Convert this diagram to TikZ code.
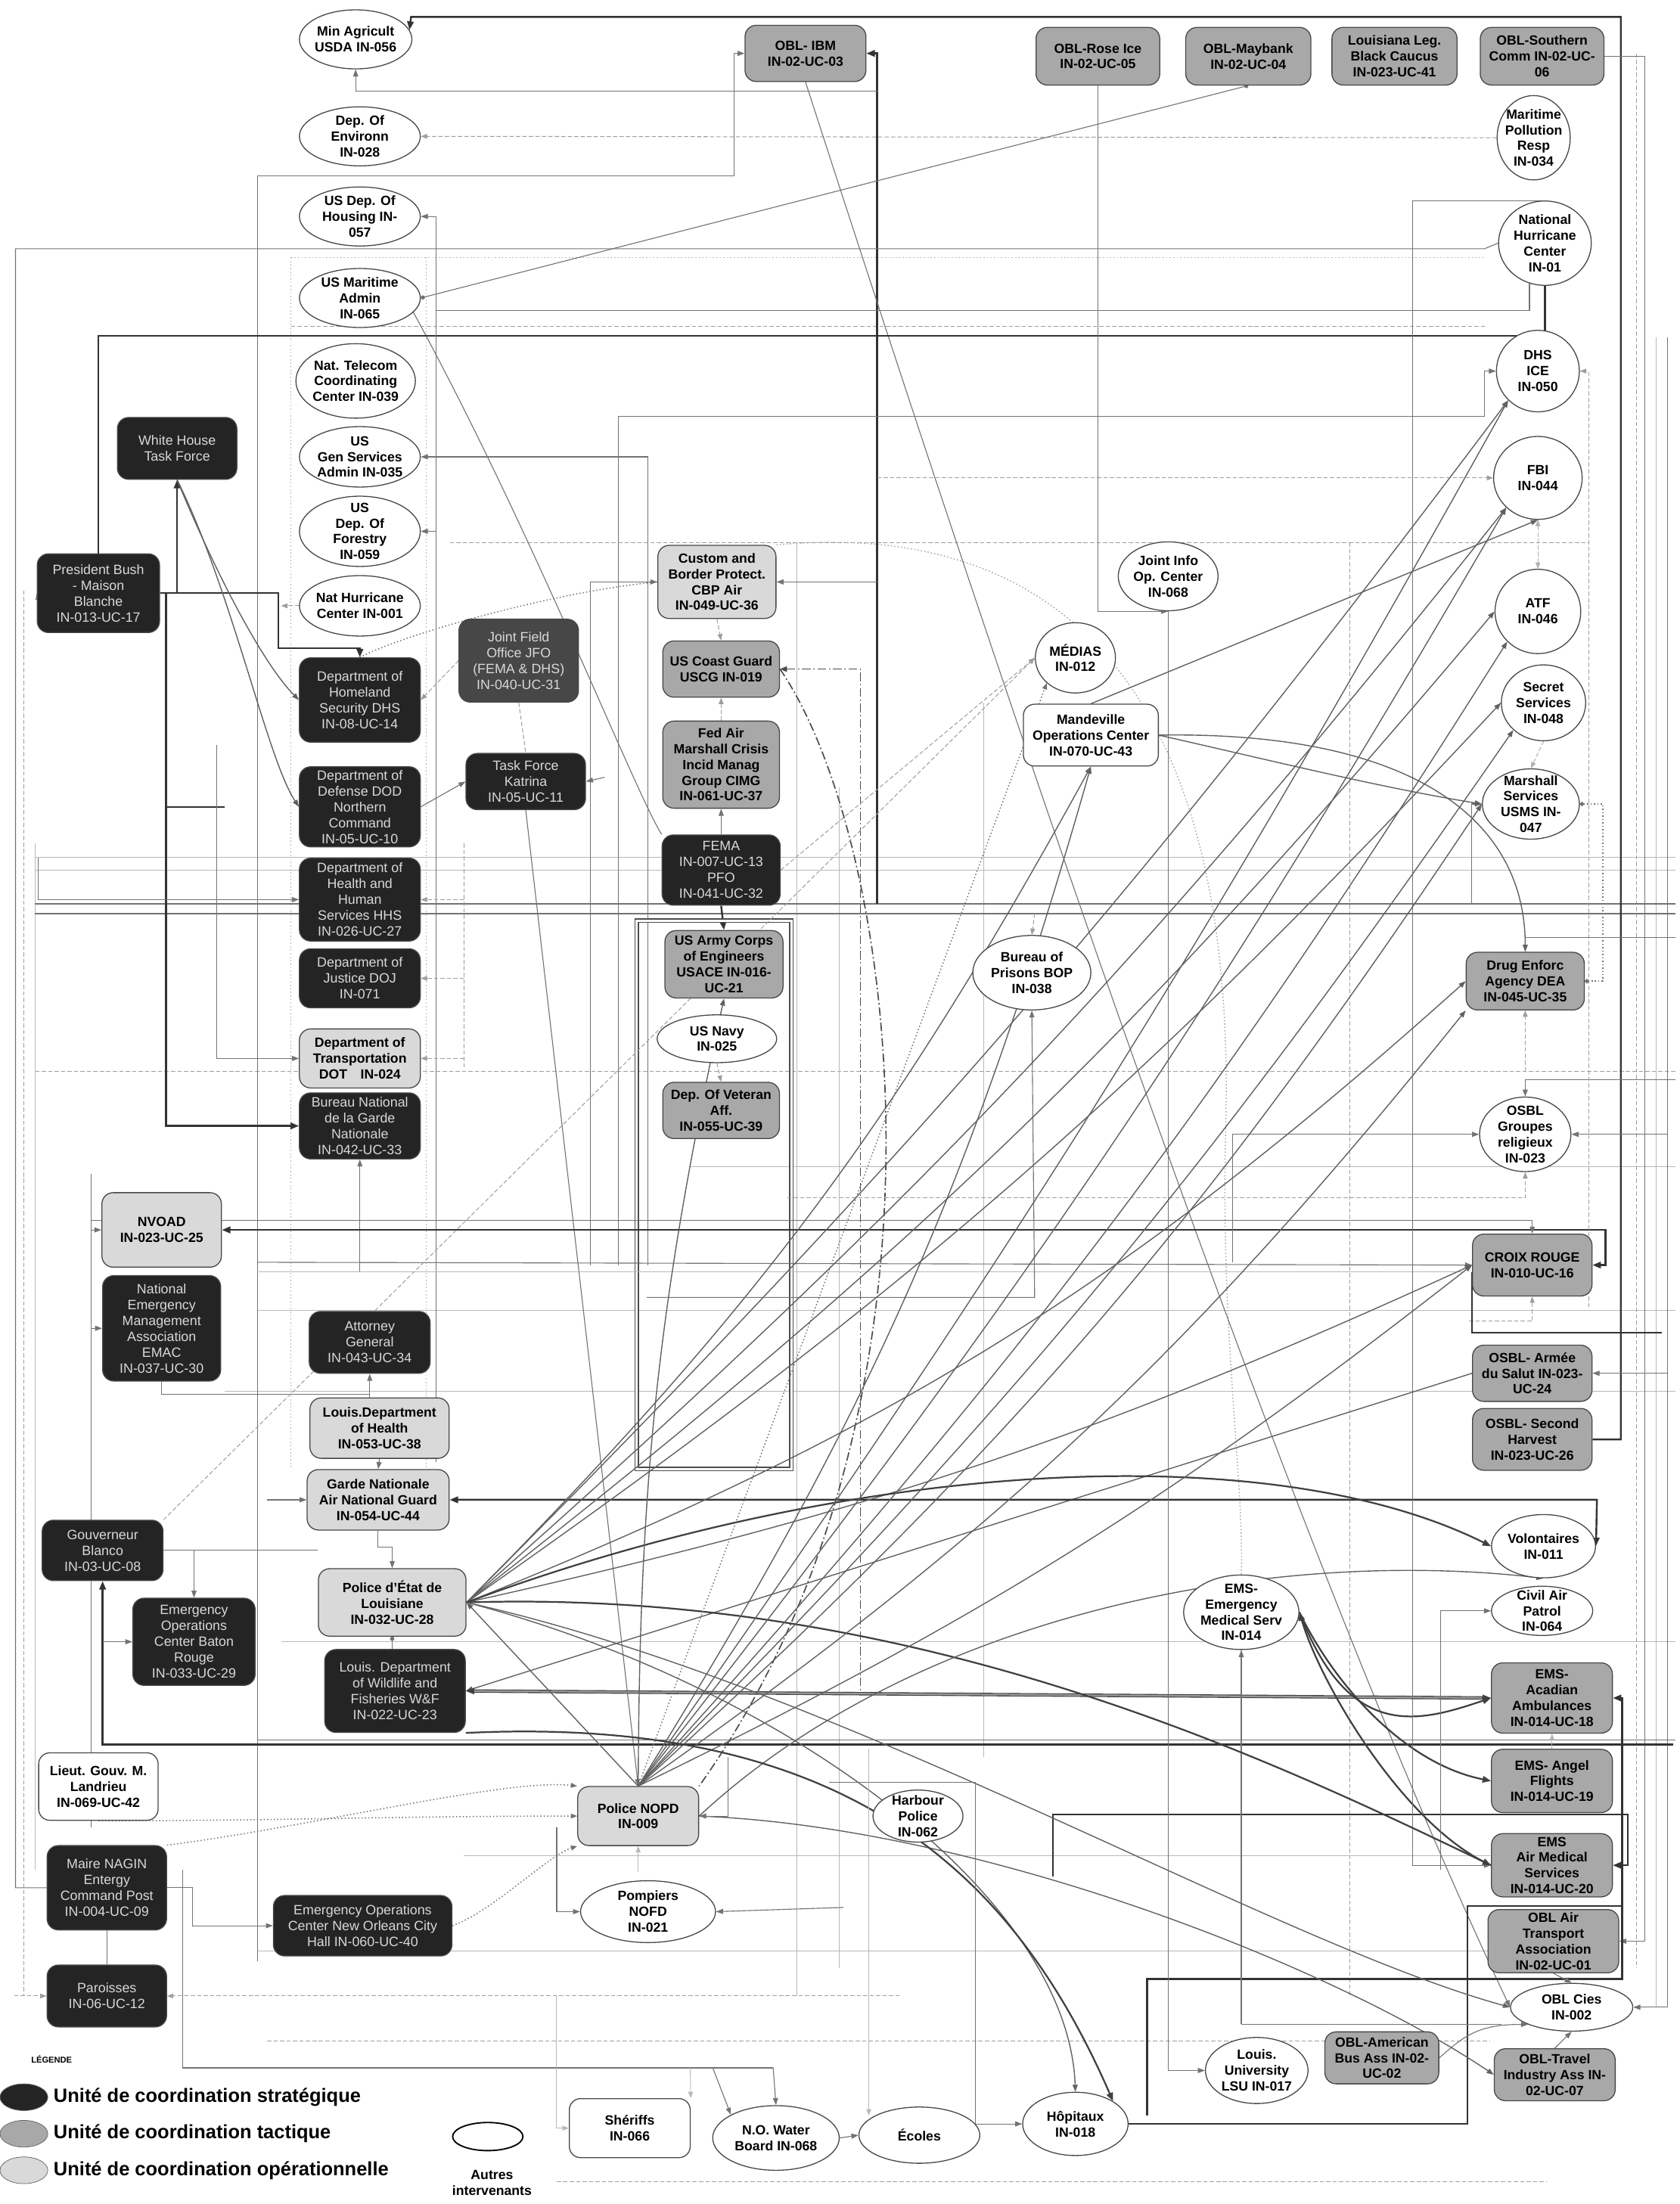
\documentclass[tikz,border=0pt]{standalone}
\usepackage{fontspec}
\setmainfont{Liberation Sans}
\usetikzlibrary{shapes.geometric,arrows.meta}
\pgfdeclarelayer{bg}
\pgfsetlayers{bg,main}
\tikzset{
 base/.style={draw=black!72, line width=0.7pt, align=center, font=\bfseries\fontsize{9.5}{11.2}\selectfont, text=black},
 strat/.style={base, rounded corners=8pt, fill=black!86, text=black!15, font=\fontsize{9.6}{11.3}\selectfont, inner sep=1pt},
 jfostyle/.style={strat, fill=black!72},
 tact/.style={base, rounded corners=8pt, fill=black!34, inner sep=1pt},
 oper/.style={base, rounded corners=8pt, fill=black!15, inner sep=1pt},
 other/.style={base, rounded corners=8pt, fill=white, inner sep=1pt},
 oval/.style={base, ellipse, fill=white, inner sep=-8pt},
 sz/.style 2 args={minimum width=#1pt, minimum height=#2pt},
 ln/.style={draw=black!55, line width=0.6pt},
 ar/.style={ln, -{Triangle[length=5pt,width=3.6pt]}},
 tk/.style={draw=black!80, line width=1.3pt},
 tka/.style={tk, -{Triangle[length=6pt,width=4.6pt]}},
 lt/.style={draw=black!28, line width=0.5pt},
 lta/.style={lt, -{Triangle[length=4.5pt,width=3.4pt]}},
 ds/.style={draw=black!38, line width=0.55pt, dash pattern=on 3pt off 1.6pt},
 dsa/.style={ds, -{Triangle[length=4.5pt,width=3.4pt]}},
 dt/.style={draw=black!55, line width=0.8pt, dash pattern=on 0.8pt off 1.6pt},
 dta/.style={dt, -{Triangle[length=4.5pt,width=3.4pt]}},
 dd/.style={draw=black!70, line width=0.9pt, dash pattern=on 6pt off 2pt on 1pt off 2pt},
 fan/.style={draw=black!62, line width=0.75pt, -{Triangle[length=5pt,width=3.6pt]}},
 fank/.style={draw=black!75, line width=1.2pt, -{Triangle[length=6pt,width=4.6pt]}},
 legtext/.style={font=\bfseries\fontsize{13.7}{15}\selectfont, anchor=west, inner sep=0pt},
}
\begin{document}
\begin{tikzpicture}[x=1pt,y=-1pt]
\useasboundingbox (0,0) rectangle (1195,1568);

% ---------------- nodes ----------------
% left ellipse column
\node[oval, sz={80}{42}] (minag) at (253,28) {Min Agricult\\USDA IN-056};
\node[oval, sz={86}{42}] (envir) at (256,97) {Dep. Of\\Environn\\IN-028};
\node[oval, sz={86}{42}] (housing) at (256,154) {US Dep. Of\\Housing IN-\\057};
\node[oval, sz={86}{42}] (maradm) at (256,212) {US Maritime\\Admin\\IN-065};
\node[oval, sz={85}{53}] (telecom) at (253,271) {Nat. Telecom\\Coordinating\\Center IN-039};
\node[oval, sz={86}{43}] (gsa) at (256,325) {US\\Gen Services\\Admin IN-035};
\node[oval, sz={86}{50}] (forestry) at (256,378) {US\\Dep. Of\\Forestry\\IN-059};
\node[oval, sz={86}{43}] (nhcone) at (256,431) {Nat Hurricane\\Center IN-001};
% top row
\node[tact, sz={86}{40}] (ibm) at (573,38) {OBL- IBM\\IN-02-UC-03};
\node[tact, sz={88}{41}] (roseice) at (781,40) {OBL-Rose Ice\\IN-02-UC-05};
\node[tact, sz={89}{41}] (maybank) at (888,40) {OBL-Maybank\\IN-02-UC-04};
\node[tact, sz={89}{41}] (caucus) at (992,40) {Louisiana Leg.\\Black Caucus\\IN-023-UC-41};
\node[tact, sz={88}{41}] (southern) at (1097,40) {OBL-Southern\\Comm IN-02-UC-\\06};
% right circles
\node[oval, sz={52}{60}] (pollution) at (1091,98) {Maritime\\Pollution\\Resp\\IN-034};
\node[oval, sz={66}{60}] (nhc) at (1099,173) {National\\Hurricane\\Center\\IN-01};
\node[oval, sz={59}{58}] (ice) at (1094,264) {DHS\\ICE\\IN-050};
\node[oval, sz={63}{59}] (fbi) at (1094,340) {FBI\\IN-044};
\node[oval, sz={61}{60}] (atf) at (1094,435) {ATF\\IN-046};
\node[oval, sz={60}{54}] (secret) at (1098,500) {Secret\\Services\\IN-048};
\node[oval, sz={69}{50}] (marshall) at (1089,572) {Marshall\\Services\\USMS IN-\\047};
% strategic left
\node[strat, sz={85}{44}] (whitehouse) at (126,319) {White House\\Task Force};
\node[strat, sz={87}{56}] (bush) at (70,422) {President Bush\\- Maison\\Blanche\\IN-013-UC-17};
\node[strat, sz={86}{60}] (dhs) at (256,498) {Department of\\Homeland\\Security DHS\\IN-08-UC-14};
\node[jfostyle, sz={85}{59}] (jfo) at (369,470) {Joint Field\\Office JFO\\(FEMA \& DHS)\\IN-040-UC-31};
\node[strat, sz={85}{40}] (tfk) at (374,556) {Task Force\\Katrina\\IN-05-UC-11};
\node[strat, sz={86}{57}] (dod) at (256,574) {Department of\\Defense DOD\\Northern\\Command\\IN-05-UC-10};
\node[strat, sz={86}{59}] (hhs) at (256,640) {Department of\\Health and\\Human\\Services HHS\\IN-026-UC-27};
\node[strat, sz={86}{42}] (doj) at (256,696) {Department of\\Justice DOJ\\IN-071};
\node[oper, sz={86}{42}] (dot) at (256,753) {Department of\\Transportation\\DOT\quad IN-024};
\node[strat, sz={86}{47}] (bngn) at (256,801) {Bureau National\\de la Garde\\Nationale\\IN-042-UC-33};
% centre column
\node[oper, sz={84}{52}] (cbp) at (510,414) {Custom and\\Border Protect.\\CBP Air\\IN-049-UC-36};
\node[tact, sz={83}{40}] (uscg) at (513,476) {US Coast Guard\\USCG IN-019};
\node[tact, sz={83}{62}] (cimg) at (513,544) {Fed Air\\Marshall Crisis\\Incid Manag\\Group CIMG\\IN-061-UC-37};
\node[strat, sz={84}{50}] (fema) at (513,619) {FEMA\\IN-007-UC-13\\PFO\\IN-041-UC-32};
\node[tact, sz={84}{48}] (usace) at (515,686) {US Army Corps\\of Engineers\\USACE IN-016-\\UC-21};
\node[oval, sz={85}{34}] (navy) at (510,739) {US Navy\\IN-025};
\node[tact, sz={83}{40}] (veteran) at (513,790) {Dep. Of Veteran\\Aff.\\IN-055-UC-39};
% left lower
\node[oper, sz={85}{53}] (nvoad) at (115,875) {NVOAD\\IN-023-UC-25};
\node[strat, sz={84}{75}] (emac) at (115,945) {National\\Emergency\\Management\\Association\\EMAC\\IN-037-UC-30};
\node[strat, sz={86}{44}] (ag) at (263,955) {Attorney\\General\\IN-043-UC-34};
\node[oper, sz={99}{43}] (ldh) at (270,1016) {Louis.Department\\of Health\\IN-053-UC-38};
\node[oper, sz={101}{43}] (garde) at (269,1067) {Garde Nationale\\Air National Guard\\IN-054-UC-44};
\node[strat, sz={86}{43}] (blanco) at (73,1103) {Gouverneur\\Blanco\\IN-03-UC-08};
\node[strat, sz={87}{62}] (eocbr) at (138,1168) {Emergency\\Operations\\Center Baton\\Rouge\\IN-033-UC-29};
\node[oper, sz={105}{48}] (pe) at (279,1140) {Police d'État de\\Louisiane\\IN-032-UC-28};
\node[strat, sz={100}{59}] (wf) at (281,1203) {Louis. Department\\of Wildlife and\\Fisheries W\&F\\IN-022-UC-23};
\node[other, sz={85}{48}] (landrieu) at (70,1271) {Lieut. Gouv. M.\\Landrieu\\IN-069-UC-42};
\node[strat, sz={85}{60}] (nagin) at (76,1343) {Maire NAGIN\\Entergy\\Command Post\\IN-004-UC-09};
\node[strat, sz={127}{43}] (eocno) at (258,1370) {Emergency Operations\\Center New Orleans City\\Hall IN-060-UC-40};
\node[strat, sz={85}{44}] (paroisses) at (76,1420) {Paroisses\\IN-06-UC-12};
% centre lower
\node[oper, sz={86}{42}] (nopd) at (454,1292) {Police NOPD\\IN-009};
\node[oval, sz={96}{44}] (nofd) at (461,1360) {Pompiers\\NOFD\\IN-021};
\node[oval, sz={64}{37}] (harbour) at (653,1292) {Harbour\\Police\\IN-062};
\node[other, sz={86}{42}] (sheriffs) at (448,1514) {Shériffs\\IN-066};
\node[oval, sz={90}{46}] (water) at (552,1521) {N.O. Water\\Board IN-068};
\node[oval, sz={86}{40}] (ecoles) at (654,1519) {Écoles};
\node[oval, sz={75}{45}] (hopitaux) at (765,1511) {Hôpitaux\\IN-018};
\node[oval, sz={73}{47}] (lsu) at (894,1473) {Louis.\\University\\LSU IN-017};
\node[tact, sz={81}{37}] (amerbus) at (983,1464) {OBL-American\\Bus Ass IN-02-\\UC-02};
\node[tact, sz={86}{37}] (travel) at (1106,1476) {OBL-Travel\\Industry Ass IN-\\02-UC-07};
\node[oval, sz={87}{34}] (cies) at (1118,1428) {OBL Cies\\IN-002};
\node[tact, sz={93}{45}] (airtrans) at (1105,1381) {OBL Air\\Transport\\Association\\IN-02-UC-01};
\node[tact, sz={86}{45}] (airmed) at (1104,1327) {EMS\\Air Medical\\Services\\IN-014-UC-20};
\node[tact, sz={86}{45}] (angel) at (1104,1267) {EMS- Angel\\Flights\\IN-014-UC-19};
\node[tact, sz={86}{50}] (acadian) at (1104,1208) {EMS-\\Acadian\\Ambulances\\IN-014-UC-18};
\node[oval, sz={72}{35}] (cap) at (1097,1146) {Civil Air\\Patrol\\IN-064};
\node[oval, sz={74}{45}] (volont) at (1098,1100) {Volontaires\\IN-011};
\node[oval, sz={82}{53}] (emsems) at (883,1147) {EMS-\\Emergency\\Medical Serv\\IN-014};
% right middle
\node[tact, sz={85}{44}] (harvest) at (1090,1024) {OSBL- Second\\Harvest\\IN-023-UC-26};
\node[tact, sz={85}{40}] (armee) at (1090,977) {OSBL- Armée\\du Salut IN-023-\\UC-24};
\node[tact, sz={85}{44}] (croix) at (1090,900) {CROIX ROUGE\\IN-010-UC-16};
\node[oval, sz={65}{53}] (osblrel) at (1085,807) {OSBL\\Groupes\\religieux\\IN-023};
\node[tact, sz={84}{41}] (dea) at (1085,698) {Drug Enforc\\Agency DEA\\IN-045-UC-35};
\node[oval, sz={84}{53}] (bop) at (734,692) {Bureau of\\Prisons BOP\\IN-038};
\node[oval, sz={71}{49}] (jioc) at (831,410) {Joint Info\\Op. Center\\IN-068};
\node[oval, sz={57}{50}] (medias) at (765,468) {MÉDIAS\\IN-012};
\node[other, sz={96}{44}] (mandev) at (776,523) {Mandeville\\Operations Center\\IN-070-UC-43};
% legend
\node[font=\bfseries\fontsize{6}{7}\selectfont, anchor=west, inner sep=0pt] (legtitle) at (22,1465) {LÉGENDE};
\node[ellipse, draw=black!60, fill=black!86, sz={34}{19}, inner sep=-8pt] (legs) at (17,1492) {};
\node[ellipse, draw=black!60, fill=black!34, sz={34}{19}, inner sep=-8pt] (legt) at (17,1518) {};
\node[ellipse, draw=black!60, fill=black!15, sz={34}{19}, inner sep=-8pt] (lego) at (17,1544) {};
\node[legtext] (legstext) at (38,1492) {Unité de coordination stratégique};
\node[legtext] (legttext) at (38,1518) {Unité de coordination tactique};
\node[legtext] (legotext) at (38,1544) {Unité de coordination opérationnelle};
\node[ellipse, draw=black, line width=1pt, fill=white, sz={50}{20}, inner sep=-8pt] (legw) at (347,1520) {};
\node[base, draw=none, inner sep=0pt] (legwtext) at (350,1553) {Autres\\intervenants};

% ---------------- named free ends ----------------
\coordinate (f624) at (624,643);
\coordinate (f624b) at (624,65);
\coordinate (v183) at (183,1395);
\coordinate (v440) at (440,900);
\coordinate (v461) at (461,900);
\coordinate (v310) at (310,1040);
\coordinate (v310b) at (310,378);
\coordinate (v420) at (420,900);
\coordinate (v624c) at (624,414);
\coordinate (v624d) at (624,340);
\coordinate (v154) at (154,530);
\coordinate (c65) at (65,835);
\coordinate (c65b) at (65,945);
\coordinate (v1186) at (1186,240);
\coordinate (v1186b) at (1186,977);
\coordinate (v1186c) at (1186,1428);
\coordinate (v1130) at (1130,930);
\coordinate (v1047) at (1047,643);
\coordinate (v1025) at (1025,1330);
\coordinate (v883) at (883,1440);
\coordinate (v749) at (749,1335);
\coordinate (g190) at (190,1067);
\coordinate (h1241) at (1190,1241);
\coordinate (p640) at (640,1420);
\coordinate (n396) at (396,1300);
\coordinate (n600) at (600,1357);
\coordinate (n518) at (518,1250);
\coordinate (n454) at (454,1332);
\coordinate (s396) at (396,1420);
\coordinate (e590) at (590,1268);
\coordinate (e618) at (618,1244);
\coordinate (osl1) at (877,898);
\coordinate (osl2) at (560,852);
\coordinate (osl3) at (1192,768);
\coordinate (dea1) at (1085,762);
\coordinate (croixs) at (1045,940);
\coordinate (bop1) at (460,923);
\coordinate (bop2) at (736,650);
\coordinate (hb1) at (25,643);
\coordinate (hb2) at (1192,643);
\coordinate (dot1) at (330,600);
\coordinate (usc1) at (612,1203);
\coordinate (tfk1) at (430,553);
\coordinate (bn1) at (183,905);
\coordinate (h183) at (183,898);
\coordinate (y868) at (65,868);
\coordinate (h1067) at (1136,1067);
\coordinate (n1471) at (130,1330);
\coordinate (nw1) at (1192,667);

% ---------------- connectors ----------------
\begin{pgfonlayer}{bg}
\fill[white] (0,0) rectangle (1195,1568);
% light web
\draw[lt, dash pattern=on 1pt off 1.5pt] (207,183) -- (1056,183);
\draw[lt, dash pattern=on 1pt off 1.5pt] (207,183) -- (207,1045);
\draw[lt, dash pattern=on 1pt off 1.5pt] (303,183) -- (303,1045);
\draw[ds] (207,232) -- (1058,232);
\draw[ds] (320,386) -- (1130,386);
\draw[lt] (25,610) -- (1192,610);
\draw[lt] (25,619) -- (1192,619);
\draw[ds] (25,762) -- (1192,762);
\draw[lt] (183,932) -- (1192,932);
\draw[lt] (160,990) -- (1192,990);
\draw[ds] (960,386) -- (960,1420);
\draw[lt] (567,386) -- (567,1420);
\draw[lt] (597,560) -- (597,1400);
\draw[ds] (396,1552) -- (1100,1552);
\draw[ds] (17,420) -- (17,1420);
\draw[lt] (25,600) -- (25,1330);
\draw[ds] (190,1452) -- (1060,1452);
\draw[lt] (183,1388) -- (1060,1388);
\draw[lt] (200,1168) -- (1192,1168);
\draw[lt] (330,1320) -- (1060,1320);
\draw[ds] (1164,38) -- (1164,1400);
\draw[lt] (1178,240) -- (1178,1428);
\draw[lt] (700,500) -- (700,1250);
\draw[lt] (490,830) -- (1192,830);
\draw[ln] (hb1) -- (hb2);
\draw[ln] (25,650) -- (1192,650);
\draw[ln] (183,1238) -- (1192,1238);
% big dotted arc
\draw[dt, black!35] (cbp.north east) .. controls (720,372) and (880,450) .. (872,800) .. controls (868,950) and (885,1050) .. (emsems.north);
% top
\draw[tka] (harvest.east) -- (1153,1024) -- (1153,12) -- (292.4,12) -- (minag.10);
\draw[tka] (f624) -- (624,38) -- (ibm.east);
\draw[ar] (f624b) -| (minag.south);
\draw[dsa] (pollution.west) -- (envir.east);
\draw[ar] (v183) -- (183,125) -- (522,125) |- (ibm.west);
\draw[ln, {Circle[length=3pt]}-{Circle[length=3pt]}] (maradm.east) -- (maybank.south);
\draw[ln] (maradm.-15) .. controls (380,380) and (450,560) .. (fema.north west);
\draw[ar] (ibm.south) .. controls (690,420) and (900,1060) .. (cies.west);
\draw[ln] (nhc.west) -- (1056,177) -- (11,177) |- (nagin.west);
\draw[tk] (bush.north) |- (1099,239) -- (nhc.south);
\draw[ln] (310,221) -- (1088,221) -- (1088,202);
\draw[ar] (v310) -- (310,154) -- (housing.east);
\draw[ar] (v310b) -- (forestry.east);
\draw[ar] (v440) |- (1056,296) |- (ice.west);
\draw[dsa] (v624d) -- (fbi.west);
\draw[ar] (v461) -- (461,325) -- (gsa.east);
% Bush & White House
\draw[tka] (bush.east) -| (whitehouse.south);
\draw[tka] (bush.east) -- (198,422) -- (198,461) -| (dhs.north);
\draw[fan] (whitehouse.south) .. controls (150,400) and (185,470) .. (dhs.west);
\draw[fan] (whitehouse.south) .. controls (165,420) and (190,540) .. (dod.west);
\draw[tka] (bush.east) -- (118,422) -- (118,801) -- (bngn.west);
\draw[tk] (118,574) -- (160,574);
\draw[dta] (30,440) -- (bush.west);
\draw[dsa] (nhcone.west) -- (200,431);
\draw[dsa] (jfo.west) -- (dhs.east);
\draw[dt] (cbp.west) .. controls (400,420) and (290,450) .. (dhs.north);
\draw[ar] (v420) -- (420,414) -- (cbp.west);
\draw[ar] (v624c) -- (cbp.east);
\draw[dd, {Triangle[length=5pt,width=4pt]}-] (uscg.east) -- (612,476) -- (usc1);
\draw[dd] (uscg.east) .. controls (640,600) and (690,1000) .. (nopd.north east);
\draw[dsa] (cbp.south) -- (uscg.north);
\draw[dsa] (cimg.north) -- (uscg.south);
\draw[ar] (fema.north) -- (cimg.south);
\draw[tka] (fema.south) -- (usace.north);
\draw[dsa] (navy.south) -- (veteran.north);
\draw[dsa] (fema.east) -- (medias.west);
\draw[black!70, line width=0.9pt, double=white, double distance=1.6pt] (453,655) rectangle (563,1045);
\draw[ar] (dod.east) -- (tfk.west);
\draw[ar] (tfk1) -- (tfk.east);
\draw[ar] (tfk.south) -- (nopd.north);
\draw[ds] (jfo.south) -- (tfk.north);
\draw[ar] (27,610) |- (hhs.west);
\draw[ar] (v154) -- (154,753) -- (dot.west);
\draw[ds] (dot1) -- (330,760);
\draw[dsa] (330,640) -- (hhs.east);
\draw[dsa] (330,696) -- (doj.east);
\draw[dsa] (330,753) -- (dot.east);
\draw[ar] (bn1) -| (bngn.south);
\draw[lt] (bn1) -- (1040,905);
% NVOAD / CROIX bus
\draw[tk, {Triangle[length=6pt,width=4.6pt]}-{Triangle[length=6pt,width=4.6pt]}] (croix.east) -- (1142,900) |- (nvoad.east);
\draw[ar] (y868) -| (croix.north);
\draw[ar] (c65) |- (nvoad.west);
\draw[ln] (c65) -- (65,1300);
\draw[ar] (c65b) -- (emac.west);
\draw[ar] (h183) -- (croix.west);
\draw[ar] (osl1) |- (osblrel.west);
\draw[dsa] (osl2) -| (osblrel.south);
\draw[ar] (osl3) -| (osblrel.north);
\draw[ar] (v1186) |- (osblrel.east);
\draw[ar] (v1186b) -- (armee.east);
\draw[ln] (v1186) -- (1186,1428);
\draw[ar] (v1186c) -- (cies.east);
\draw[ar] (southern.east) -- (1170,40) -- (1170,1381) -- (airtrans.east);
\draw[dsa] (croixs) -| (croix.south);
\draw[tk] (1047,905) -- (1047,948) -- (1182,948);
\draw[ar] (bop1) -- (736,923) -- (bop.south);
\draw[dsa] (bop2) -- (bop.north);
\draw[fan] (armee.west) -- (wf.east);
% EMAC / Louisiana
\draw[ln] (emac.south) |- (263,992);
\draw[ar] (ldh.north -| ag.south) -- (ag.south);
\draw[ar] (ldh.south) -- (garde.north);
\draw[ar] (garde.south) -- ++(0,12) -| (pe.north);
\draw[ln, {Circle[length=3pt]}-] (pe.south) -- (pe.south |- wf.north);
\draw[tk, {Triangle[length=6pt,width=4.6pt]}-{Triangle[length=6pt,width=4.6pt]}] (garde.east) -- (h1067) -- (volont.east);
\draw[ar] (g190) -- (garde.west);
\draw[ln] (blanco.east) -- (226,1103);
\draw[ar] (138,1103) -- (eocbr.north);
\draw[tk, {Triangle[length=6pt,width=4.6pt]}-] (blanco.south) |- (h1241);
\draw[ar] (73,1168) -- (eocbr.west);
\draw[black!75, line width=0.6pt, double=black!40, double distance=1.2pt, {Triangle[length=6pt,width=4.6pt]}-{Triangle[length=6pt,width=4.6pt]}] (wf.east) -- (acadian.west);
\draw[dsa] (blanco.north east) -- (medias.west);
% Hopitaux loops
\draw[tka] (hopitaux.east) -- (1044,1511) -- (1044,1356) -- (1154,1356) -- (1154,1208) -- (acadian.east);
\draw[tk] (1154,1356) -- (1154,1408) -- (816,1408) -- (816,1505);
\draw[tka] (v749) -- (749,1291) -- (1158,1291) |- (airmed.east);
% EMS
\draw[fank] (emsems.east) .. controls (960,1240) and (1010,1225) .. (acadian.west);
\draw[fank] (emsems.east) .. controls (950,1200) and (1000,1255) .. (angel.west);
\draw[fank, {Triangle[length=6pt,width=4.6pt]}-] (emsems.east) .. controls (940,1200) and (1000,1300) .. (airmed.west);
\draw[ar] (v883) -- (emsems.south);
\draw[ln] (v883) -- (1068,1440);
\draw[ar] (v1025) |- (cap.west);
\draw[ar] (nhc.north) -| (1005,1327) -- (airmed.west);
\draw[lta] (angel.north) -- (acadian.south);
\draw[ar] (amerbus.east) .. controls (1040,1450) and (1050,1440) .. (cies.south west);
\draw[ar] (travel.north) -- (cies.south);
\draw[ar] (airtrans.south) -- (cies.north);
% right top area
\draw[dsa] (v1130) -- (1130,264) -- (ice.east);
\draw[dsa, black!30] (fbi.south) -- (atf.north);
\draw[dsa, black!30] (atf.north) -- (fbi.south);
\draw[dsa, black!30] (secret.south) -- (marshall.north);
\draw[dt, line width=1.2pt, {Circle[length=3pt]}-{Circle[length=3pt]}] (dea.east) -- (1140,698) |- (marshall.east);
\draw[ar] (v1047) |- (marshall.west);
\draw[dsa] (dea1) -- (dea.south);
\draw[ln] (dea.north) |- (nw1);
\draw[ar] (roseice.south) |- (jioc.south);
\draw[ar] (jioc.south) |- (lsu.west);
\draw[fan] (mandev.east) .. controls (1000,520) and (1085,580) .. (dea.north);
\draw[fan] (mandev.north) -- (fbi.south);
\draw[fan] (mandev.east) .. controls (900,540) and (980,560) .. (marshall.west);
% fan from Police d'Etat
\draw[fan] (pe.east) to[bend right=4] (ice.south west);
\draw[fan] (pe.east) to[bend right=5] (fbi.south west);
\draw[fan] (pe.east) to[bend right=6] (atf.west);
\draw[fan] (pe.east) to[bend right=6] (secret.west);
\draw[fan] (pe.east) to[bend right=8] (mandev.south);
\draw[fan] (pe.east) to[bend right=10] (dea.west);
\draw[fan] (pe.east) to[bend right=6] (croix.west);
\draw[fank] (pe.east) .. controls (600,1040) and (900,1020) .. (volont.west);
\draw[fank] (pe.east) .. controls (650,1130) and (900,1250) .. (airmed.west);
\draw[fan] (pe.east) .. controls (600,1200) and (900,1380) .. (cies.west);
\draw[fan] (pe.east) .. controls (560,1200) and (760,1350) .. (hopitaux.north);
% fan from Police NOPD
\draw[fan] (nopd.north) to[bend right=3] (ice.south west);
\draw[fan] (nopd.north) to[bend right=4] (fbi.south west);
\draw[fan] (nopd.north) to[bend right=5] (atf.south west);
\draw[fan] (nopd.north) to[bend right=5] (secret.south west);
\draw[fan] (nopd.north) to[bend right=7] (marshall.west);
\draw[fan] (nopd.north) to[bend right=8] (mandev.south);
\draw[fan] (nopd.north) to[bend right=8] (dea.south west);
\draw[fan] (nopd.north) to[bend right=6] (croix.west);
\draw[fan] (nopd.north) -- (pe.east);
\draw[fan] (nopd.north) to[bend left=6] (usace.south);
\draw[dta] (nopd.north) -- (medias.south west);
\draw[fan] (nopd.east) .. controls (650,1150) and (900,1100) .. (volont.south);
\draw[fan] (nopd.east) .. controls (700,1300) and (950,1400) .. (travel.west);
\draw[fank] (wf.south east) .. controls (600,1220) and (720,1330) .. (hopitaux.north east);
% bottom left
\draw[dta] (landrieu.south) to[out=0,in=180] (nopd.west);
\draw[dta] (nagin.north east) .. controls (220,1300) and (360,1265) .. (nopd.north west);
\draw[ar] (nagin.east) -- (137,1343) |- (eocno.west);
\draw[ln] (paroisses.north) -- (nagin.south);
\draw[dsa] (p640) -- (paroisses.east);
\draw[dsa] (10,1420) -- (paroisses.west);
\draw[dta] (eocno.east) .. controls (350,1360) and (390,1320) .. (nopd.south west);
\draw[ln, line width=0.9pt] (n1471) -- (130,1471) -- (550,1471);
\draw[ar] (550,1471) -- (water.north);
\draw[ar] (507,1471) -- (water.north west);
\draw[lta] (491,1471) -- (sheriffs.north east);
\draw[ar] (n396) |- (nofd.west);
\draw[ar] (n600) -- (nofd.east);
\draw[ar] (n518) |- (nopd.east);
\draw[lta] (n454) -- (nopd.south);
\draw[lta] (s396) |- (sheriffs.west);
\draw[ar] (water.east) -- (ecoles.west);
\draw[ar] (e590) -- (694,1268) |- (hopitaux.west);
\draw[lta] (e618) -- (618,1505);
\end{pgfonlayer}
\end{tikzpicture}
\end{document}
